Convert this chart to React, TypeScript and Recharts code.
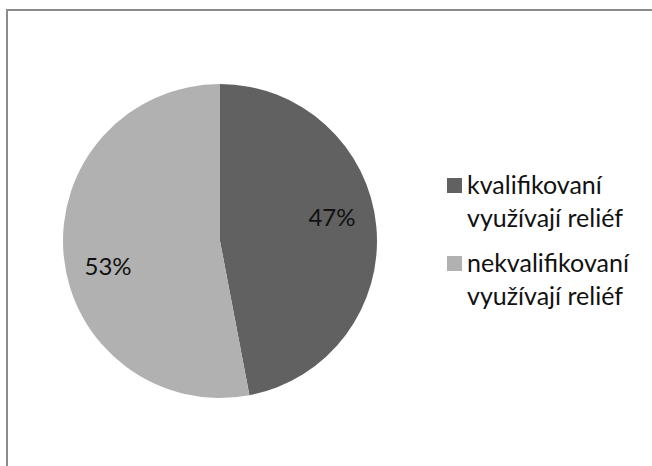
import { PieChart, Pie, Cell, Legend } from "recharts";

const categories = ["kvalifikovaní využívají reliéf", "nekvalifikovaní využívají reliéf"];
const shares = [47, 53];
const sliceColors = ["#616161", "#b1b1b1"];

const data = categories.map((name, i) => ({ name, value: shares[i] }));

const FONT = "Lato, 'Open Sans', sans-serif";
const RAD = Math.PI / 180;

function renderLabel(props: any) {
  const { cx, cy, midAngle, outerRadius, percent } = props;
  // excel nudges the labels a bit counter-clockwise
  const a = (midAngle + 7) * RAD;
  const r = outerRadius * 0.73;
  const x = cx + r * Math.cos(a);
  const y = cy - r * Math.sin(a);
  return (
    <text x={x} y={y} fill="#111" textAnchor="middle" dominantBaseline="central" fontSize={24} fontFamily={FONT}>
      {Math.round(percent * 100)}%
    </text>
  );
}

function LegendBox() {
  return (
    <div style={{ fontFamily: FONT, fontSize: 25, color: "#111", lineHeight: "33px" }}>
      {data.map((d, i) => {
        const cut = d.name.indexOf(" ");
        return (
          <div key={d.name} style={{ display: "flex", alignItems: "flex-start", marginBottom: i === 0 ? 12 : 0 }}>
            <span style={{ width: 15, height: 15, background: sliceColors[i], marginTop: 10, marginRight: 5, flex: "none" }} />
            <div>
              <div>{d.name.slice(0, cut)}</div>
              <div>{d.name.slice(cut + 1)}</div>
            </div>
          </div>
        );
      })}
    </div>
  );
}

export default function App() {
  return (
    <div style={{ position: "absolute", left: 0, top: 0, width: 652, height: 466, background: "#fff", overflow: "hidden" }}>
      <div style={{ position: "absolute", left: 6, top: 9, right: 0, bottom: 0, borderTop: "2px solid #8c8c8c", borderLeft: "2px solid #8c8c8c" }} />
      <PieChart width={652} height={466} margin={{ top: 0, right: 0, bottom: 0, left: 0 }} style={{ position: "absolute", left: 0, top: 0 }}>
        <Pie
          data={data}
          dataKey="value"
          nameKey="name"
          cx={220}
          cy={241}
          outerRadius={157}
          startAngle={90}
          endAngle={-270}
          stroke="none"
          label={renderLabel}
          labelLine={false}
          isAnimationActive={false}
        >
          {data.map((d, i) => (
            <Cell key={d.name} fill={sliceColors[i]} />
          ))}
        </Pie>
        <Legend content={<LegendBox />} wrapperStyle={{ left: 447, top: 168, width: 205 }} />
      </PieChart>
    </div>
  );
}
